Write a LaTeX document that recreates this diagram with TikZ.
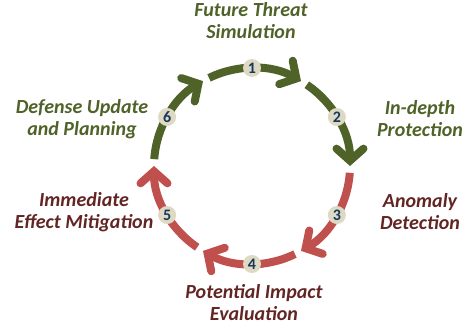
\documentclass[tikz,border=0pt]{standalone}
\usepackage{fontspec}
\setmainfont{Carlito}
\usetikzlibrary{arrows.meta}
\definecolor{grn}{HTML}{4F6228}
\definecolor{redarc}{HTML}{C0504D}
\definecolor{redtxt}{HTML}{632523}
\definecolor{numfill}{HTML}{DDD9C3}
\definecolor{numblue}{HTML}{17375E}
\begin{document}
\begin{tikzpicture}[x=1pt,y=1pt,
  seg/.style={line width=8pt, -{Straight Barb[length=12pt,width=27pt,line cap=round]}},
  num/.style={circle, fill=numfill, minimum size=18pt, inner sep=0pt,
    font=\bfseries\fontsize{16}{16}\selectfont, text=numblue},
  lbl/.style={align=center, font=\bfseries\itshape\fontsize{20}{22}\selectfont}]
\useasboundingbox (-252,-165) rectangle (213,166);
\def\R{98}
% arc segments
\foreach \a/\c in {90/grn,30/grn,-30/redarc,-90/redarc,-150/redarc,150/grn}{
  \pgfmathsetmacro{\s}{\a+26}
  \pgfmathsetmacro{\e}{\a-30}
  \coordinate (s\a) at (\s:\R);
  \draw[seg,draw=\c] (s\a) arc[start angle=\s, end angle=\e, radius=\R];
}
% number circles
\node[num] (n1) at (90:\R) {1};
\node[num] (n2) at (30:\R) {2};
\node[num] (n3) at (-30:\R) {3};
\node[num] (n4) at (-90:\R) {4};
\node[num] (n5) at (-150:\R) {5};
\node[num] (n6) at (150:\R) {6};
% labels
\node[lbl,text=grn] (l1) at (-1,145) {Future Threat\\Simulation};
\node[lbl,text=grn] (l2) at (168,47) {In-depth\\Protection};
\node[lbl,text=redtxt] (l3) at (168,-46) {Anomaly\\Detection};
\node[lbl,text=redtxt] (l4) at (2,-137) {Potential Impact\\Evaluation};
\node[lbl,text=redtxt] (l5) at (-168,-46) {Immediate\\Effect Mitigation};
\node[lbl,text=grn] (l6) at (-170,47) {Defense Update\\and Planning};
\end{tikzpicture}
\end{document}
